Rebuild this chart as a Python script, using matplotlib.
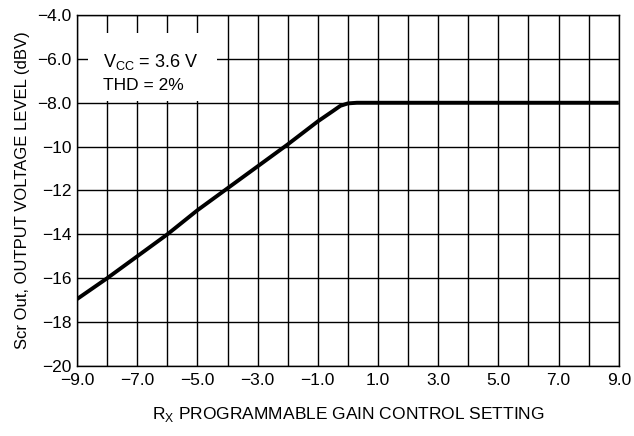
import numpy as np
import matplotlib
matplotlib.use("Agg")
import matplotlib.pyplot as plt
from matplotlib.patches import Rectangle

plt.rcParams['font.family'] = ['Liberation Sans', 'DejaVu Sans']
plt.rcParams['mathtext.fontset'] = 'custom'
plt.rcParams['mathtext.rm'] = 'Liberation Sans'
plt.rcParams['axes.unicode_minus'] = True

# gain setting vs output level
gain_setting = [-9.0, -8.0, -7.0, -6.0, -5.0, -4.0, -3.0, -2.0, -1.0, -0.5, -0.25, 0.0, 0.3, 9.0]
output_dbv = [-16.95, -16.0, -15.0, -14.0, -12.9, -11.9, -10.9, -9.9, -8.85, -8.38, -8.14, -8.03, -8.0, -8.0]

x_ticks = [-9.0, -7.0, -5.0, -3.0, -1.0, 1.0, 3.0, 5.0, 7.0, 9.0]
x_tick_labels = ['\u22129.0', '\u22127.0', '\u22125.0', '\u22123.0', '\u22121.0', '1.0', '3.0', '5.0', '7.0', '9.0']
y_ticks = [-4, -6, -8, -10, -12, -14, -16, -18, -20]
y_tick_labels = ['\u22124.0', '\u22126.0', '\u22128.0', '\u221210', '\u221212', '\u221214', '\u221216', '\u221218', '\u221220']

fig = plt.figure(figsize=(6.34, 4.36), dpi=100)
ax = fig.add_axes([0.1215, 0.1606, 0.8545, 0.805])

ax.set_xlim(-9, 9)
ax.set_ylim(-20, -4)

# grid: every 1 on x, every 2 on y
ax.set_xticks(np.arange(-9, 10, 1), minor=True)
ax.set_xticks(x_ticks)
ax.set_xticklabels(x_tick_labels)
ax.set_yticks(y_ticks)
ax.set_yticklabels(y_tick_labels)
ax.grid(True, which='both', color='black', linewidth=1.0)
ax.set_axisbelow(True)
ax.tick_params(which='both', length=0, labelsize=12.5)
ax.tick_params(axis='x', pad=5)
ax.tick_params(axis='y', pad=4)
for sp in ax.spines.values():
    sp.set_linewidth(1.0)

ax.plot(gain_setting, output_dbv, color='black', linewidth=2.8, zorder=3,
        solid_capstyle='butt', solid_joinstyle='round')

# white label box over the grid
ax.add_patch(Rectangle((0.02, 0.756), 0.238, 0.193, transform=ax.transAxes,
                       facecolor='white', edgecolor='none', zorder=1))
ax.text(0.048, 0.866, r'V$_{\mathrm{CC}}$ = 3.6 V', transform=ax.transAxes,
        fontsize=13, ha='left', va='center', zorder=4)
ax.text(0.048, 0.80, 'THD = 2%', transform=ax.transAxes,
        fontsize=12.5, ha='left', va='center', zorder=4)

ax.set_ylabel('Scr Out, OUTPUT VOLTAGE LEVEL (dBV)', fontsize=12, labelpad=5)
ax.set_xlabel(r'R$_{\mathrm{X}}$ PROGRAMMABLE GAIN CONTROL SETTING', fontsize=12.5, labelpad=12)

fig.savefig('out.png', dpi=100)
